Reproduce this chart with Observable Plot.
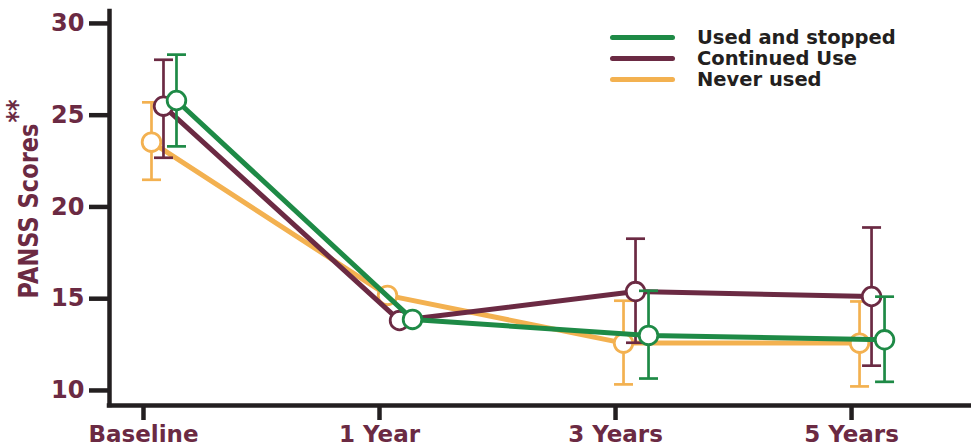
<!DOCTYPE html>
<html>
<head>
<meta charset="utf-8">
<script src="https://cdn.jsdelivr.net/npm/d3@7"></script>
<script src="https://cdn.jsdelivr.net/npm/@observablehq/plot@0.6"></script>
<style>
  body { margin: 0; background: #fff; }
  #wrap { position: relative; width: 971px; height: 447px; overflow: hidden; background: #fff; }
  #legend { position: absolute; left: 610px; top: 26.5px; font-family: "DejaVu Sans", sans-serif; font-weight: bold; font-size: 19.5px; color: #231f20; }
  .row { display: flex; align-items: center; height: 21px; white-space: nowrap; }
  .sw { width: 65px; height: 5px; border-radius: 3px; margin-right: 22px; }
</style>
</head>
<body>
<div id="wrap"><div id="legend"></div></div>
<script>
// ---- data ----
const timepoints = ["Baseline", "1 Year", "3 Years", "5 Years"];
const timeIndex = [0, 1, 2, 3];
const yTicks = [10, 15, 20, 25, 30];
const seriesNames = ["Used and stopped", "Continued Use", "Never used"];

const usedStoppedMean = [25.8, 13.87, 13.0, 12.76];
const usedStoppedLow  = [23.3, null, 10.65, 10.47];
const usedStoppedHigh = [28.3, null, 15.43, 15.11];

const continuedMean = [25.49, 13.81, 15.39, 15.12];
const continuedLow  = [22.68, null, 12.6, 11.35];
const continuedHigh = [28.02, null, 18.27, 18.88];

const neverMean = [23.53, 15.18, 12.58, 12.58];
const neverLow  = [21.48, null, 10.33, 10.22];
const neverHigh = [25.7, null, 14.89, 14.85];

// ---- styles ----
const maroon = "#6b2a43", green = "#1e8a46", orange = "#f3b150", ink = "#231f20";
const font = "DejaVu Sans";

const series = [
  {name: seriesNames[2], color: orange, dx: 8,  mean: neverMean, low: neverLow, high: neverHigh},
  {name: seriesNames[1], color: maroon, dx: 20, mean: continuedMean, low: continuedLow, high: continuedHigh},
  {name: seriesNames[0], color: green,  dx: 33, mean: usedStoppedMean, low: usedStoppedLow, high: usedStoppedHigh}
];
const rowsOf = s => timeIndex.map((t, i) => ({t, mean: s.mean[i], low: s.low[i], high: s.high[i]}));

const capSymbol = {
  draw(ctx, size) { const r = Math.sqrt(size / Math.PI); ctx.moveTo(-r, 0); ctx.lineTo(r, 0); }
};

const xDomain = [-0.144, 3.504];
const yDomain = [9.18, 30.65];

const marks = [];
for (const s of series) {
  const data = rowsOf(s);
  const bars = data.filter(d => d.low != null && d.high != null);
  marks.push(
    Plot.line(data, {x: "t", y: "mean", dx: s.dx, stroke: s.color, strokeWidth: 5, strokeLinejoin: "round", strokeLinecap: "round"}),
    Plot.ruleX(bars, {x: "t", y1: "low", y2: "high", dx: s.dx, stroke: s.color, strokeWidth: 2.7}),
    Plot.dot(bars, {x: "t", y: "low", dx: s.dx, symbol: capSymbol, r: 9.5, fill: "none", stroke: s.color, strokeWidth: 2.7}),
    Plot.dot(bars, {x: "t", y: "high", dx: s.dx, symbol: capSymbol, r: 9.5, fill: "none", stroke: s.color, strokeWidth: 2.7}),
    Plot.dot(data, {x: "t", y: "mean", dx: s.dx, r: 9.3, fill: "white", stroke: s.color, strokeWidth: 2.8})
  );
}

const chart = Plot.plot({
  width: 971,
  height: 447,
  marginLeft: 109,
  marginRight: 1,
  marginTop: 11,
  marginBottom: 42,
  style: {fontFamily: font, background: "white", overflow: "visible"},
  x: {domain: xDomain},
  y: {domain: yDomain},
  marks: [
    Plot.axisY({ticks: yTicks, tickSize: 20, tickPadding: 5, stroke: ink, strokeWidth: 4.5, color: maroon, fontSize: 24, fontWeight: "bold", label: null}),
    Plot.axisX({ticks: timeIndex, tickFormat: i => timepoints[i], tickSize: 15, tickPadding: 5, stroke: ink, strokeWidth: 4.5, color: maroon, fontSize: 23, fontWeight: "bold", label: null}),
    Plot.ruleX([xDomain[0]], {stroke: ink, strokeWidth: 4.5, strokeLinecap: "square"}),
    Plot.ruleY([yDomain[0]], {stroke: ink, strokeWidth: 4.5, strokeLinecap: "square"}),
    Plot.text(["PANSS Scores"], {frameAnchor: "left", rotate: -90, dx: -80, dy: 2.5, fontSize: 27, fontWeight: "bold", fill: maroon, textAnchor: "middle", lineAnchor: "middle"}),
    Plot.text(["**"], {frameAnchor: "left", rotate: -90, dx: -91, dy: -86, fontSize: 28, fontWeight: "bold", fill: maroon, textAnchor: "start", lineAnchor: "middle"}),
    ...marks
  ]
});

const sel = d3.select(chart).selectAll("text");
sel.filter(function() { return this.textContent === "PANSS Scores"; })
  .attr("textLength", 175)
  .attr("lengthAdjust", "spacingAndGlyphs");
sel.filter(function() { return this.textContent === "**"; })
  .attr("textLength", 23)
  .attr("lengthAdjust", "spacingAndGlyphs");

const wrap = document.getElementById("wrap");
wrap.insertBefore(chart, wrap.firstChild);

const legendColors = [green, maroon, orange];
const legend = document.getElementById("legend");
seriesNames.forEach((n, i) => {
  const row = document.createElement("div");
  row.className = "row";
  const sw = document.createElement("span");
  sw.className = "sw";
  sw.style.background = legendColors[i];
  const label = document.createElement("span");
  label.textContent = n;
  row.appendChild(sw);
  row.appendChild(label);
  legend.appendChild(row);
});
</script>
</body>
</html>
